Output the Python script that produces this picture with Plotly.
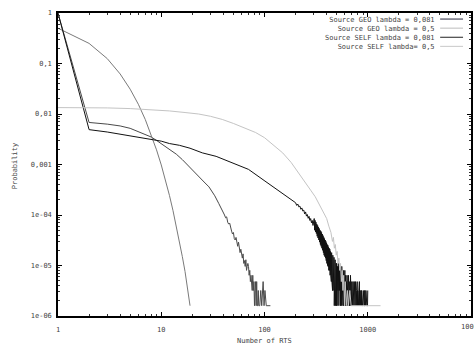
import plotly.graph_objects as go

# ---------------- data ----------------
# Source GEO lambda = 0,081
rts_geo_081 = [1, 2, 3, 4, 5, 6, 7, 8, 9, 10,
               12, 14, 16, 18, 20, 23, 26, 29, 33, 36,
               40, 41, 42, 43, 44, 45, 46, 47, 48, 49,
               50, 51, 52, 53, 54, 55, 56, 57, 58, 59,
               60, 61, 62, 63, 64, 65, 66, 67, 68, 69,
               70, 71, 72, 73, 74, 75, 76, 77, 78, 79,
               80, 81, 82, 83, 84, 85, 86, 87, 88,
               90, 92, 94, 97, 99, 101, 104, 108, 114]
prob_geo_081 = [0.995, 0.0068, 0.0063, 0.0058, 0.0052, 0.0045, 0.0040, 0.0035, 0.0030, 0.0026,
                0.0020, 0.0016, 0.00125, 0.00097, 0.00076, 0.00056, 0.00045, 0.00036, 0.00024, 0.00017,
                1.15e-4, 1.0e-4, 8.8e-5, 9.2e-5, 7.2e-5, 6.6e-5, 6.9e-5, 5.1e-5, 4.8e-5, 4.2e-5,
                4.5e-5, 3.4e-5, 3.2e-5, 3.6e-5, 2.6e-5, 2.4e-5, 2.9e-5, 2.0e-5, 1.8e-5, 2.1e-5,
                1.5e-5, 1.4e-5, 1.7e-5, 1.1e-5, 1.25e-5, 9.6e-6, 1.3e-5, 8.0e-6, 9.6e-6, 1.1e-5,
                9.6e-6, 6.4e-6, 8.0e-6, 4.8e-6, 6.4e-6, 4.8e-6, 3.2e-6, 6.4e-6, 3.2e-6, 4.8e-6,
                1.6e-6, 3.2e-6, 4.8e-6, 1.6e-6, 4.8e-6, 1.6e-6, 1.6e-6, 3.2e-6, 1.6e-6,
                1.6e-6, 3.2e-6, 1.6e-6, 4.8e-6, 1.6e-6, 3.2e-6, 1.6e-6, 1.6e-6, 1.6e-6]

# Source GEO lambda = 0,5
rts_geo_05 = [1, 2, 3, 4, 5, 6, 7, 8, 9, 10, 11, 12, 13, 14, 15, 16, 17, 18, 19]
prob_geo_05 = [0.5, 0.25, 0.125, 0.062, 0.031, 0.0156, 0.0078, 0.0039, 0.00195, 0.00098,
               0.00049, 0.000245, 0.000122, 6.1e-5, 3.0e-5, 1.5e-5, 7.6e-6, 3.5e-6, 1.6e-6]

# Source SELF lambda = 0,081
rts_self_081 = [1, 2, 3, 4, 5, 6, 7, 8, 9, 10, 12, 15, 19, 25, 34, 48, 70, 101, 130, 160, 185,
                200, 205, 210, 215, 220, 225, 230, 235, 240, 245,
                250, 255, 260, 265, 270, 275, 280, 285, 290, 295, 300,
                303, 306, 309, 312, 315, 318, 321, 324, 327, 330,
                333, 336, 339, 342, 345, 348, 351, 354, 357, 360,
                363, 366, 369, 372, 375, 378, 381, 384, 387, 390,
                393, 396, 399, 402, 405, 408, 411, 414, 417, 420,
                423, 426, 429, 432, 435, 438, 441, 444, 447, 450,
                453, 456, 459, 462, 465, 468, 471, 474, 477, 480,
                483, 486, 489, 492, 495, 498,
                500, 505, 510, 515, 520, 525, 530, 535, 540, 545,
                550, 555, 560, 565, 570, 575, 580, 585, 590, 595,
                600, 605, 610, 615, 620, 625, 630, 635, 640, 645,
                650, 655, 660, 665, 670, 675, 680, 685, 690, 695,
                700, 705, 710, 715, 720, 725, 730, 735, 740, 745,
                750, 755, 760, 765, 770, 775, 780, 785, 790, 795,
                800, 805, 810, 815, 820, 825, 830, 835, 840, 845,
                850, 855, 860, 865, 870, 875, 880, 885, 890, 895,
                900, 905, 910, 915, 920, 925, 930, 935, 940, 945,
                950, 955, 960, 965, 970, 975, 980, 985, 990, 995,
                1000]
prob_self_081 = [0.995, 0.0049, 0.0044, 0.0040, 0.0037, 0.0035, 0.0033, 0.0031, 0.0030, 0.0029,
                 0.0026, 0.0024, 0.0021, 0.0017, 0.00145, 0.0011, 0.0008, 0.00047, 0.00033, 0.00024, 0.0002,
                 1.75e-4, 1.55e-4, 1.65e-4, 1.45e-4, 1.5e-4, 1.3e-4, 1.38e-4, 1.2e-4, 1.25e-4, 1.05e-4,
                 1.15e-4, 9.5e-5, 1.02e-4, 8.6e-5, 9.4e-5, 7.8e-5, 8.5e-5, 7.0e-5, 7.8e-5, 6.2e-5, 7.2e-5,
                 8.5e-5, 5.0e-5, 7.8e-5, 4.6e-5, 7.2e-5, 4.3e-5, 6.6e-5, 3.8e-5, 6.2e-5, 3.5e-5,
                 5.8e-5, 3.2e-5, 5.4e-5, 2.9e-5, 5.0e-5, 2.6e-5, 4.8e-5, 2.4e-5, 4.5e-5, 2.2e-5,
                 4.2e-5, 2.0e-5, 3.9e-5, 1.8e-5, 3.6e-5, 1.6e-5, 3.4e-5, 1.5e-5, 3.2e-5, 1.4e-5,
                 3.0e-5, 1.25e-5, 2.8e-5, 1.1e-5, 2.6e-5, 1.0e-5, 2.5e-5, 9.5e-6, 2.3e-5, 8.0e-6,
                 2.2e-5, 8.0e-6, 2.1e-5, 6.4e-6, 1.9e-5, 6.4e-6, 1.8e-5, 4.8e-6, 1.8e-5, 4.8e-6,
                 1.6e-5, 3.2e-6, 1.6e-5, 3.2e-6, 1.45e-5, 3.2e-6, 1.45e-5, 1.6e-6, 1.3e-5, 3.2e-6,
                 1.3e-5, 1.6e-6, 1.1e-5, 1.6e-6, 1.1e-5, 1.6e-6,
                 1.1e-5, 1.6e-6, 9.6e-6, 3.2e-6, 1.1e-5, 1.6e-6, 8.0e-6, 3.2e-6, 9.6e-6, 1.6e-6,
                 8.0e-6, 1.6e-6, 9.6e-6, 3.2e-6, 6.4e-6, 1.6e-6, 8.0e-6, 1.6e-6, 6.4e-6, 3.2e-6,
                 8.0e-6, 1.6e-6, 6.4e-6, 1.6e-6, 4.8e-6, 1.6e-6, 6.4e-6, 1.6e-6, 4.8e-6, 1.6e-6,
                 6.4e-6, 1.6e-6, 4.8e-6, 1.6e-6, 4.8e-6, 1.6e-6, 6.4e-6, 1.6e-6, 4.8e-6, 1.6e-6,
                 4.8e-6, 1.6e-6, 3.2e-6, 1.6e-6, 4.8e-6, 1.6e-6, 3.2e-6, 1.6e-6, 4.8e-6, 1.6e-6,
                 3.2e-6, 1.6e-6, 4.8e-6, 1.6e-6, 3.2e-6, 1.6e-6, 3.2e-6, 1.6e-6, 4.8e-6, 1.6e-6,
                 3.2e-6, 1.6e-6, 3.2e-6, 1.6e-6, 3.2e-6, 1.6e-6, 4.8e-6, 1.6e-6, 3.2e-6, 1.6e-6,
                 3.2e-6, 1.6e-6, 3.2e-6, 1.6e-6, 1.6e-6, 3.2e-6, 1.6e-6, 3.2e-6, 1.6e-6, 1.6e-6,
                 3.2e-6, 1.6e-6, 1.6e-6, 3.2e-6, 1.6e-6, 1.6e-6, 1.6e-6, 3.2e-6, 1.6e-6, 1.6e-6,
                 1.6e-6, 1.6e-6, 3.2e-6, 1.6e-6, 1.6e-6, 1.6e-6, 1.6e-6, 1.6e-6, 1.6e-6, 1.6e-6,
                 3.2e-6]

# Source SELF lambda= 0,5
rts_self_05 = [1, 2, 3, 5, 8, 12, 17, 23, 30, 39,
               50, 65, 82, 100, 127, 150, 181, 215, 248, 280,
               310, 340, 370, 400, 420, 440, 455, 465, 475, 485,
               495, 505, 515, 525, 535, 545, 555, 565, 575, 585,
               595, 605, 620, 635, 650, 670, 690, 720, 800, 1000,
               1200, 1330]
prob_self_05 = [0.0134, 0.0134, 0.0132, 0.0128, 0.0122, 0.0115, 0.0107, 0.0100, 0.0090, 0.0078,
                0.0065, 0.0053, 0.0043, 0.0034, 0.0023, 0.0017, 0.0011, 6.8e-4, 4.4e-4, 3.1e-4,
                2.3e-4, 1.6e-4, 1.2e-4, 8.5e-5, 6.0e-5, 4.5e-5, 3.0e-5, 3.6e-5, 2.2e-5, 2.6e-5,
                1.6e-5, 1.9e-5, 1.1e-5, 1.4e-5, 8.0e-6, 1.1e-5, 4.8e-6, 8.0e-6, 3.2e-6, 6.4e-6,
                1.6e-6, 4.8e-6, 1.6e-6, 3.2e-6, 1.6e-6, 3.2e-6, 1.6e-6, 1.6e-6, 1.6e-6, 1.6e-6,
                1.6e-6, 1.6e-6]

series_names = ["Source GEO lambda = 0,081", "Source GEO lambda = 0,5",
                "Source SELF lambda = 0,081", "Source SELF lambda= 0,5"]
series_x = [rts_geo_081, rts_geo_05, rts_self_081, rts_self_05]
series_y = [prob_geo_081, prob_geo_05, prob_self_081, prob_self_05]
line_colors = ["#4a4a4a", "#7a7a7a", "#111111", "#c4c4c4"]
legend_colors = ["#2a2a40", "#bdbdbd", "#222222", "#c8c8c8"]

x_tick_vals = [1, 10, 100, 1000, 10000]
x_tick_text = ["1", "10", "100", "1000", ""]
x_last_label = "10000"   # drawn separately: the reference shows it cut by the right edge
y_tick_vals = [1, 0.1, 0.01, 0.001, 1e-4, 1e-5, 1e-6]
y_tick_text = ["1", "0,1", "0,01", "0,001", "1e-04", "1e-05", "1e-06"]

FONT = "DejaVu Sans Mono"
FS = 7

fig = go.Figure()
for name, xs, ys, col in zip(series_names, series_x, series_y, line_colors):
    n = min(len(xs), len(ys))
    fig.add_trace(go.Scatter(x=xs[:n], y=ys[:n], mode="lines", name=name,
                             line=dict(color=col, width=1), showlegend=False))

# plot area in pixels: x 58..473, y 13..316
L, R, T, B = 58, 1, 13, 31
W, H = 474, 347
pw, ph = W - L - R, H - T - B


def px(xp):
    return (xp - L) / pw


def py(yp):
    return (H - B - yp) / ph


annotations = [
    dict(text="Probability", x=px(15), y=py(166), xref="paper", yref="paper",
         textangle=-90, showarrow=False, xanchor="center", yanchor="middle",
         font=dict(family=FONT, size=FS, color="#444")),
    dict(text="Number of RTS", x=px(266), y=py(340.5), xref="paper", yref="paper",
         showarrow=False, xanchor="center", yanchor="middle", borderpad=0,
         font=dict(family=FONT, size=FS, color="#444")),
    dict(text=x_last_label, x=1.0, y=py(327), xref="paper", yref="paper",
         showarrow=False, xanchor="center", yanchor="middle", borderpad=0,
         font=dict(family=FONT, size=FS, color="#444")),
]

# key: one right-aligned text block, with a sample line beside each row
line_h = 1.3 * FS
key_top = 14.5
annotations.append(dict(text="<br>".join(series_names), x=px(438), y=py(key_top),
                        xref="paper", yref="paper", showarrow=False,
                        xanchor="right", yanchor="top", align="right", borderpad=0,
                        font=dict(family=FONT, size=FS, color="#444")))
shapes = []
for i, col in enumerate(legend_colors):
    ry = key_top + line_h * (i + 0.5)
    shapes.append(dict(type="line", xref="paper", yref="paper",
                       x0=px(442), x1=px(465), y0=py(ry), y1=py(ry),
                       line=dict(color=col, width=1)))

fig.update_layout(
    width=W, height=H,
    margin=dict(l=L, r=R, t=T, b=B),
    paper_bgcolor="white", plot_bgcolor="white",
    showlegend=False,
    font=dict(family=FONT, size=FS, color="#444"),
    annotations=annotations, shapes=shapes,
    xaxis=dict(type="log", range=[0, 4], tickmode="array", tickvals=x_tick_vals,
               ticktext=x_tick_text, ticks="inside", ticklen=4, tickcolor="black",
               showline=True, linecolor="black", linewidth=1.5, mirror="allticks",
               showgrid=False, zeroline=False, ticklabelstandoff=6,
               ticklabeloverflow="allow",
               minor=dict(ticks="inside", ticklen=2, tickcolor="#333", dtick="D1", showgrid=False)),
    yaxis=dict(type="log", range=[-6, 0], tickmode="array", tickvals=y_tick_vals,
               ticktext=y_tick_text, ticks="inside", ticklen=4, tickcolor="black",
               showline=True, linecolor="black", linewidth=1.5, mirror="allticks",
               showgrid=False, zeroline=False, ticklabelstandoff=3,
               ticklabeloverflow="allow",
               minor=dict(ticks="inside", ticklen=2, tickcolor="#333", dtick="D1", showgrid=False)),
)

fig.write_html("out.html", config={"displayModeBar": False},
               post_script="document.body.style.margin='0';document.body.style.overflow='hidden';")
